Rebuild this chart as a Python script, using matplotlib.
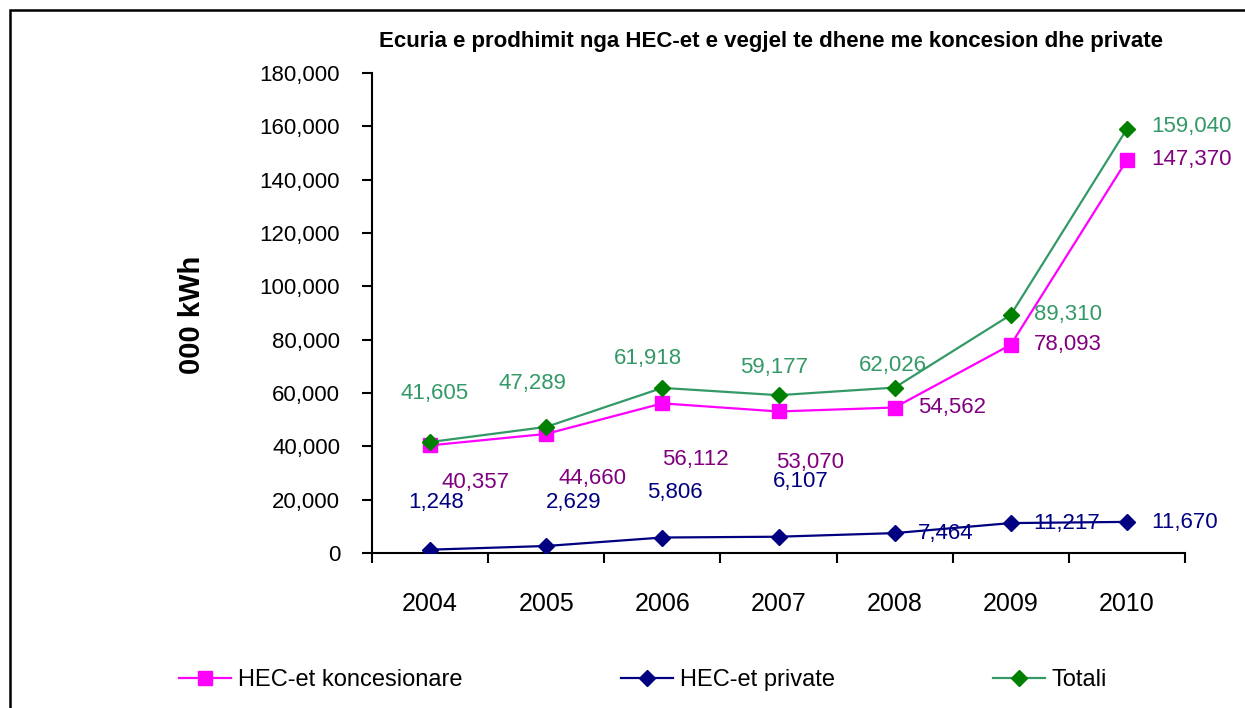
import matplotlib
matplotlib.use("Agg")
import matplotlib.pyplot as plt
from matplotlib.patches import Rectangle
from matplotlib.lines import Line2D

plt.rcParams['font.family'] = ['Liberation Sans', 'DejaVu Sans']

years = ['2004', '2005', '2006', '2007', '2008', '2009', '2010']
koncesionare = [40357, 44660, 56112, 53070, 54562, 78093, 147370]
private = [1248, 2629, 5806, 6107, 7464, 11217, 11670]
totali = [41605, 47289, 61918, 59177, 62026, 89310, 159040]

title = 'Ecuria e prodhimit nga HEC-et e vegjel te dhene me koncesion dhe private'
ylabel = '000 kWh'
series_names = ['HEC-et koncesionare', 'HEC-et private', 'Totali']

# label offsets in pixels (dx right, dy down) relative to each point
off_k = [(45, 37), (46, 45), (33, 56), (32, 51), (57, 0), (57, 0), (65, -1)]
off_p = [(6, -47), (27, -43), (13, -45), (22, -55), (51, 0), (56, 0), (58, 1)]
off_t = [(4, -49), (-14, -43), (-14, -29), (-4, -28), (-2, -22), (57, 0), (65, -2)]

W, H = 1245, 708
fig = plt.figure(figsize=(W / 100, H / 100), dpi=100)
ax = fig.add_axes([372 / W, 1 - 553 / H, (1185 - 372) / W, (553 - 73) / H])

x = list(range(len(years)))
c_pink, c_pink_txt = '#FF00FF', '#800080'
c_navy = '#000080'
c_green_line, c_green_mk, c_green_txt = '#339966', '#008000', '#339966'

ax.plot(x, koncesionare, color=c_pink, lw=1.6, marker='s', ms=10.5,
        mfc=c_pink, mec=c_pink, zorder=3)
ax.plot(x, private, color=c_navy, lw=1.6, marker='D', ms=8.5,
        mfc=c_navy, mec=c_navy, zorder=3)
ax.plot(x, totali, color=c_green_line, lw=1.6, marker='D', ms=8.5,
        mfc=c_green_mk, mec=c_green_mk, zorder=4)

fs_lab = 16
for vals, offs, col in [(koncesionare, off_k, c_pink_txt),
                        (private, off_p, c_navy),
                        (totali, off_t, c_green_txt)]:
    for i, (v, (dx, dy)) in enumerate(zip(vals, offs)):
        ax.annotate(f'{v:,}', xy=(i, v), xytext=(dx, -dy),
                    textcoords='offset pixels', ha='center', va='center',
                    color=col, fontsize=fs_lab, zorder=5, annotation_clip=False)

ax.set_xlim(-0.5, len(years) - 0.5)
ax.set_ylim(0, 180000)
ax.set_yticks(range(0, 180001, 20000))
ax.set_yticklabels([f'{v:,}' for v in range(0, 180001, 20000)], fontsize=16)
ax.set_xticks([i - 0.5 for i in range(len(years) + 1)])
ax.set_xticklabels([])
ax.set_xticks(x, minor=True)
ax.set_xticklabels(years, minor=True, fontsize=18)
ax.tick_params(axis='x', which='major', direction='out', length=7, width=1.5)
ax.tick_params(axis='x', which='minor', length=0, pad=28)
ax.tick_params(axis='y', direction='out', length=7, width=1.5, pad=16)
for s in ['top', 'right']:
    ax.spines[s].set_visible(False)
for s in ['left', 'bottom']:
    ax.spines[s].set_linewidth(1.5)

fig.text(192 / W, 1 - 315 / H, ylabel, rotation=90, ha='center', va='center',
         fontsize=21, fontweight='bold')
fig.text(771 / W, 1 - 42 / H, title, ha='center', va='center',
         fontsize=16, fontweight='bold')

handles = [
    Line2D([], [], color=c_pink, lw=1.6, marker='s', ms=10.5, mfc=c_pink, mec=c_pink),
    Line2D([], [], color=c_navy, lw=1.6, marker='D', ms=8.5, mfc=c_navy, mec=c_navy),
    Line2D([], [], color=c_green_line, lw=1.6, marker='D', ms=8.5, mfc=c_green_mk, mec=c_green_mk),
]
fig.legend(handles, series_names, loc='center left', ncol=3,
           bbox_to_anchor=(179 / W, 1 - 680 / H), frameon=False,
           fontsize=17, handlelength=2.2, handletextpad=0.3,
           columnspacing=6.7, borderaxespad=0, borderpad=0)

fig.add_artist(Rectangle((10 / W, -0.1), 1.2, 1 - 10 / H + 0.1,
                         transform=fig.transFigure, fill=False,
                         edgecolor='black', lw=1.8))

fig.savefig('out.png', dpi=100)
